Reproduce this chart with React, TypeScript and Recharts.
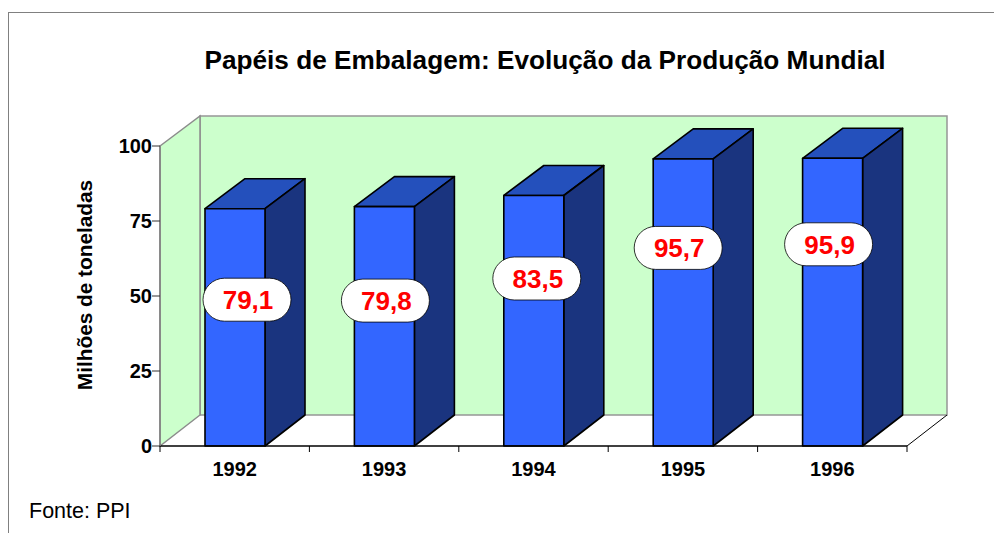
import { Bar, BarChart, LabelList, XAxis, YAxis, usePlotArea } from "recharts";

const years = ["1992", "1993", "1994", "1995", "1996"];
const production = [79.1, 79.8, 83.5, 95.7, 95.9];
const yTicks = [0, 25, 50, 75, 100];

// the value bubbles were placed by hand in the original, so each one has its own nudge
const bubbleNudgeX = [12, 1, 3, -5, -4];
const bubbleNudgeY = [91, 94, 83, 89, 86];

const data = years.map((year, i) => ({ year, production: production[i] }));

const FONT = '"Liberation Sans", Arial, sans-serif';
const DX = 40;
const DY = 31;

function Walls() {
  const plot = usePlotArea();
  if (!plot) return null;
  const { x, y, width, height } = plot;
  const bottom = y + height;
  const right = x + width;
  return (
    <g>
      <polygon points={`${x},${bottom} ${x + DX},${bottom - DY} ${right + DX},${bottom - DY} ${right},${bottom}`} fill="#fff" />
      <rect x={x + DX} y={y - 30} width={width} height={height - 1} fill="#ccffcc" stroke="#969696" strokeWidth={1.5} />
      <polygon points={`${x},${y} ${x + DX},${y - 30} ${x + DX},${bottom - DY} ${x},${bottom}`} fill="#ccffcc" stroke="#8c8c8c" strokeWidth={1.5} />
      <line x1={right} y1={bottom} x2={right + DX} y2={bottom - DY} stroke="#000" strokeWidth={1} />
    </g>
  );
}

function Bar3D(props: any) {
  const { x, y, width, height } = props;
  const r = x + width;
  const b = y + height;
  return (
    <g stroke="#000" strokeWidth={1.6} strokeLinejoin="round">
      <polygon points={`${x},${y} ${x + DX},${y - 30} ${r + DX},${y - 30} ${r},${y}`} fill="#2450bc" />
      <polygon points={`${r},${y} ${r + DX},${y - 30} ${r + DX},${b - DY} ${r},${b}`} fill="#1a347f" />
      <rect x={x} y={y} width={width} height={height} fill="#3366ff" />
    </g>
  );
}

function Bubble(props: any) {
  const { x, y, width, value, index } = props;
  const cx = x + width / 2 + bubbleNudgeX[index];
  const cy = y + bubbleNudgeY[index];
  return (
    <g>
      <rect x={cx - 44} y={cy - 21.5} width={88} height={43} rx={21.5} ry={21.5} fill="#fff" stroke="#000" strokeWidth={0.8} />
      <text x={cx + 1} y={cy + 9.5} textAnchor="middle" fontFamily={FONT} fontWeight="bold" fontSize={26} fill="#ff0000">
        {Number(value).toLocaleString("pt-BR", { minimumFractionDigits: 1 })}
      </text>
    </g>
  );
}

function YearTick(props: any) {
  const { x, y, payload, index, width, visibleTicksCount } = props;
  const step = width / visibleTicksCount;
  const top = y - 8;
  return (
    <g>
      <line x1={x - step / 2} y1={top} x2={x - step / 2} y2={top + 6} stroke="#000" />
      {index === visibleTicksCount - 1 && <line x1={x + step / 2} y1={top} x2={x + step / 2} y2={top + 6} stroke="#000" />}
      <text x={x} y={y + 22} textAnchor="middle" fontFamily={FONT} fontWeight="bold" fontSize={20} fill="#000">
        {payload.value}
      </text>
    </g>
  );
}

function Captions() {
  return (
    <g fontFamily={FONT} fill="#000">
      <text x={545} y={69} textAnchor="middle" fontWeight="bold" fontSize={26.2}>
        Papéis de Embalagem: Evolução da Produção Mundial
      </text>
      <text x={92} y={285} transform="rotate(-90 92 285)" textAnchor="middle" fontWeight="bold" fontSize={20.8}>
        Milhões de toneladas
      </text>
      <text x={29} y={518} fontSize={21.5}>
        Fonte: PPI
      </text>
    </g>
  );
}

export default function App() {
  return (
    <div style={{ position: "absolute", left: 0, top: 0, width: 994, height: 533, background: "#fff", overflow: "hidden" }}>
      <div style={{ position: "absolute", left: 8, top: 12, width: 1100, height: 600, border: "1px solid #808080" }} />
      <div style={{ position: "absolute", left: 0, top: 0 }}>
        <BarChart width={994} height={533} data={data} margin={{ top: 146, right: 87, bottom: 0, left: 0 }}>
          <Walls />
          <XAxis
            dataKey="year"
            height={87}
            axisLine={{ stroke: "#000", strokeWidth: 1.5 }}
            tickLine={false}
            tick={<YearTick />}
            interval={0}
          />
          <YAxis
            width={160}
            domain={[0, 100]}
            ticks={yTicks}
            axisLine={{ stroke: "#808080", strokeWidth: 1.5 }}
            tickLine={{ stroke: "#333" }}
            tickSize={8}
            tickMargin={0}
            tick={{ fontFamily: FONT, fontWeight: "bold", fontSize: 20, fill: "#000" }}
          />
          <Bar dataKey="production" barSize={60} shape={<Bar3D />} isAnimationActive={false}>
            <LabelList dataKey="production" content={<Bubble />} />
          </Bar>
          <Captions />
        </BarChart>
      </div>
    </div>
  );
}
